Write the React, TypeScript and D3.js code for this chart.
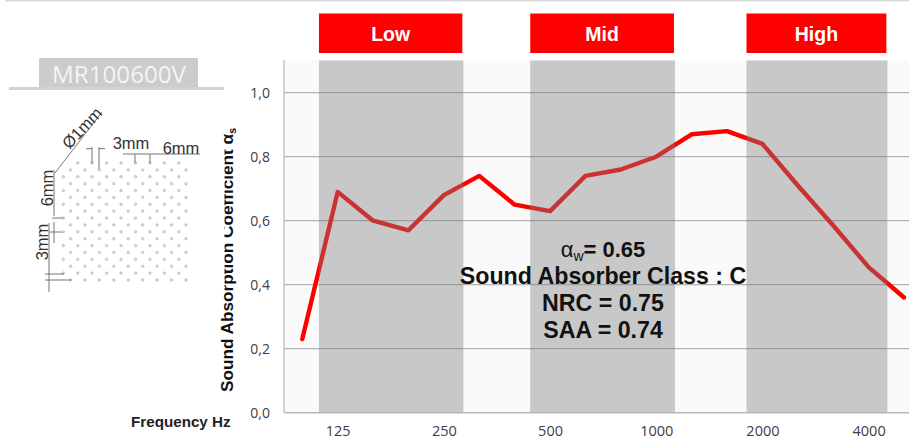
import React, { useEffect, useRef } from 'react';
import * as d3 from 'd3';

const frequencies = ['100', '125', '160', '200', '250', '315', '400', '500', '630', '800', '1000', '1250', '1600', '2000', '2500', '3150', '4000', '5000'];
const absorption = [0.23, 0.69, 0.6, 0.57, 0.68, 0.74, 0.65, 0.63, 0.74, 0.76, 0.8, 0.87, 0.88, 0.84, 0.71, 0.585, 0.455, 0.36];
const xTickLabels = ['125', '250', '500', '1000', '2000', '4000'];
const yTicks = [0, 0.2, 0.4, 0.6, 0.8, 1];

// band edges are in units of category index
const bandNames = ['Low', 'Mid', 'High'];
const bandStarts = [0.47, 6.44, 12.55];
const bandEnds = [4.55, 10.53, 16.53];

const noteLines = ['Sound Absorber Class : C', 'NRC = 0.75', 'SAA = 0.74'];

// perforation pattern: first half-pitch column of each row
const holeRowStarts = [2, 1, 0, 1, 0, 1, 0, 1, 0, 1, 0, 1, 0, 1, 0, 1, 0, 1];
const holeRowEnds = [16, 17, 16, 17, 16, 17, 16, 17, 16, 17, 16, 17, 16, 17, 16, 17, 16, 17];

const WIDTH = 909;
const HEIGHT = 437;
const sans = '"Liberation Sans", Arial, sans-serif';
const tickFont = '"Open Sans", sans-serif';

export default function App() {
  const svgRef = useRef<SVGSVGElement>(null);

  useEffect(() => {
    if (!svgRef.current) return;
    const svg = d3.select(svgRef.current);
    svg.selectAll('*').remove();

    const plotLeft = 284;
    const plotTop = 60;
    const plotBottom = 412.7;

    const xIndex = d3.scaleLinear().domain([0, frequencies.length - 1]).range([302.3, 904]);
    const xPoint = d3.scalePoint<string>().domain(frequencies).range([302.3, 904]);
    const y = d3.scaleLinear().domain([0, 1]).range([plotBottom, 92.7]);

    // top hairline of the source slide
    svg.append('rect').attr('x', 5).attr('y', 0).attr('width', WIDTH).attr('height', 1.4).attr('fill', '#d8d8d8');

    // plot background
    svg.append('rect')
      .attr('x', plotLeft).attr('y', plotTop)
      .attr('width', WIDTH - plotLeft).attr('height', plotBottom - plotTop)
      .attr('fill', '#fafafa');

    // gridlines
    svg.append('g')
      .selectAll('line')
      .data(yTicks.slice(1))
      .enter()
      .append('line')
      .attr('x1', plotLeft).attr('x2', WIDTH)
      .attr('y1', (d) => y(d)).attr('y2', (d) => y(d))
      .attr('stroke', '#b2b2b2').attr('stroke-width', 1.2);

    // series, the grey bands sit over it
    const line = d3.line<number>()
      .x((_, i) => xPoint(frequencies[i]) as number)
      .y((d) => y(d));
    svg.append('path')
      .datum(absorption)
      .attr('d', line)
      .attr('fill', 'none')
      .attr('stroke', '#ff0000')
      .attr('stroke-width', 4.4)
      .attr('stroke-linejoin', 'round')
      .attr('stroke-linecap', 'round');

    svg.append('g')
      .selectAll('rect')
      .data(bandNames)
      .enter()
      .append('rect')
      .attr('x', (_, i) => xIndex(bandStarts[i]))
      .attr('y', plotTop + 0.5)
      .attr('width', (_, i) => xIndex(bandEnds[i]) - xIndex(bandStarts[i]))
      .attr('height', plotBottom - plotTop - 0.5)
      .attr('fill', '#7d7d7d')
      .attr('fill-opacity', 0.4);

    // band headers
    const headers = svg.append('g').selectAll('g').data(bandNames).enter().append('g');
    headers.append('rect')
      .attr('x', (_, i) => xIndex(bandStarts[i]))
      .attr('y', 13.5)
      .attr('width', (_, i) => xIndex(bandEnds[i]) - xIndex(bandStarts[i]) - 1)
      .attr('height', 39.5)
      .attr('fill', '#ff0000');
    headers.append('text')
      .attr('x', (_, i) => (xIndex(bandStarts[i]) + xIndex(bandEnds[i])) / 2 - 0.5)
      .attr('y', 40.5)
      .attr('text-anchor', 'middle')
      .attr('font-family', sans)
      .attr('font-size', 19.5)
      .attr('font-weight', 'bold')
      .attr('fill', '#ffffff')
      .text((d) => d);

    // axes
    const yAxis = svg.append('g')
      .attr('transform', `translate(${plotLeft},0)`)
      .call(d3.axisLeft(y).tickValues(yTicks).tickFormat((d) => d3.format('.1f')(d as number).replace('.', ',')).tickSize(0).tickPadding(14));
    yAxis.select('.domain').attr('stroke', 'none');
    yAxis.selectAll('text').attr('font-family', tickFont).attr('font-size', 14).attr('fill', '#404040');

    const xAxis = svg.append('g')
      .attr('transform', `translate(0,${plotBottom})`)
      .call(d3.axisBottom(xPoint).tickValues(xTickLabels).tickSize(0).tickPadding(13));
    xAxis.select('.domain').attr('stroke', 'none');
    xAxis.selectAll('text').attr('font-family', tickFont).attr('font-size', 14.5).attr('fill', '#404040');

    svg.append('line')
      .attr('x1', plotLeft).attr('x2', plotLeft).attr('y1', plotTop).attr('y2', plotBottom)
      .attr('stroke', '#b8b8b8').attr('stroke-width', 1.2);
    svg.append('line')
      .attr('x1', plotLeft).attr('x2', WIDTH).attr('y1', plotBottom).attr('y2', plotBottom)
      .attr('stroke', '#b8b8b8').attr('stroke-width', 1.4);

    // axis titles
    const yTitle = svg.append('text')
      .attr('transform', 'translate(233,392) rotate(-90)')
      .attr('font-family', sans)
      .attr('font-size', 17.2)
      .attr('font-weight', 'bold')
      .attr('fill', '#111111')
      .text('Sound Absorption Coefficient α');
    yTitle.append('tspan').attr('font-size', 10.5).attr('dy', 3).text('s');
    // the title is partly hidden by a white box in the original
    svg.append('rect').attr('x', 208).attr('y', 146).attr('width', 16.5).attr('height', 146).attr('fill', '#ffffff');

    svg.append('text')
      .attr('x', 131).attr('y', 427)
      .attr('font-family', sans).attr('font-size', 15.2).attr('font-weight', 'bold').attr('fill', '#222222')
      .text('Frequency Hz');

    // annotation
    const noteX = 603;
    const alpha = svg.append('text')
      .attr('x', noteX).attr('y', 257)
      .attr('text-anchor', 'middle')
      .attr('font-family', sans).attr('font-size', 22).attr('font-weight', 'bold').attr('fill', '#111111');
    alpha.append('tspan').attr('font-weight', 'normal').text('α');
    alpha.append('tspan').attr('font-weight', 'normal').attr('font-size', 14).attr('dy', 4).text('w');
    alpha.append('tspan').attr('dy', -4).text('= 0.65');

    svg.append('g')
      .selectAll('text')
      .data(noteLines)
      .enter()
      .append('text')
      .attr('x', noteX)
      .attr('y', (_, i) => 284 + i * 26.8)
      .attr('text-anchor', 'middle')
      .attr('font-family', sans).attr('font-size', 23.2).attr('font-weight', 'bold').attr('fill', '#111111')
      .text((d) => d);

    // panel label
    svg.append('rect').attr('x', 39).attr('y', 58).attr('width', 159).attr('height', 30).attr('fill', '#cccccc');
    svg.append('rect').attr('x', 9).attr('y', 87).attr('width', 215).attr('height', 3).attr('fill', '#d2d2d2');
    svg.append('text')
      .attr('x', 119).attr('y', 83)
      .attr('text-anchor', 'middle')
      .attr('font-family', tickFont).attr('font-size', 24.2).attr('fill', '#f4f4f4')
      .text('MR100600V');

    // perforation drawing
    const holeX = d3.scaleLinear().domain([0, 17]).range([63.3, 186]);
    const holeY = d3.scaleLinear().domain([0, holeRowStarts.length - 1]).range([163, 280]);
    const holes = holeRowStarts.flatMap((start, row) =>
      d3.range(start, holeRowEnds[row] + 1, 2).map((col) => ({ row, col }))
    );
    svg.append('g')
      .selectAll('circle')
      .data(holes)
      .enter()
      .append('circle')
      .attr('cx', (d) => holeX(d.col))
      .attr('cy', (d) => holeY(d.row))
      .attr('r', 1.2)
      .attr('fill', '#ececec')
      .attr('stroke', '#a8a8a8')
      .attr('stroke-width', 0.7);

    // dimension lines: [x1, y1, x2, y2]
    const dimLines = [
      [55, 173, 102, 112],
      [92, 147, 92, 163], [99, 147, 99, 169],
      [86, 148.7, 92, 148.7], [99, 148.7, 105, 148.7],
      [123, 154, 200, 154], [135, 154, 135, 163], [150, 154, 150, 163],
      [54, 170, 54, 216], [52, 218, 63, 218], [50, 232, 62, 232], [54, 222, 54, 243],
      [49, 223, 49, 292], [45, 274, 64, 274], [45, 280, 71, 280],
    ];
    svg.append('g')
      .selectAll('line')
      .data(dimLines)
      .enter()
      .append('line')
      .attr('x1', (d) => d[0]).attr('y1', (d) => d[1])
      .attr('x2', (d) => d[2]).attr('y2', (d) => d[3])
      .attr('stroke', '#666666')
      .attr('stroke-width', 0.9);

    const dimText = [
      { label: 'Ø1mm', x: 82, y: 128, r: -47 },
      { label: '3mm', x: 131, y: 143, r: 0 },
      { label: '6mm', x: 181, y: 148, r: 0 },
      { label: '6mm', x: 47, y: 188, r: -90 },
      { label: '3mm', x: 42, y: 242, r: -90 },
    ];
    svg.append('g')
      .selectAll('text')
      .data(dimText)
      .enter()
      .append('text')
      .attr('transform', (d) => `translate(${d.x},${d.y}) rotate(${d.r})`)
      .attr('text-anchor', 'middle')
      .attr('dy', '0.35em')
      .attr('font-family', sans).attr('font-size', 16.5).attr('fill', '#333333')
      .text((d) => d.label);
  }, []);

  return (
    <svg
      ref={svgRef}
      width={WIDTH}
      height={HEIGHT}
      style={{ position: 'absolute', left: 0, top: 0 }}
    />
  );
}
